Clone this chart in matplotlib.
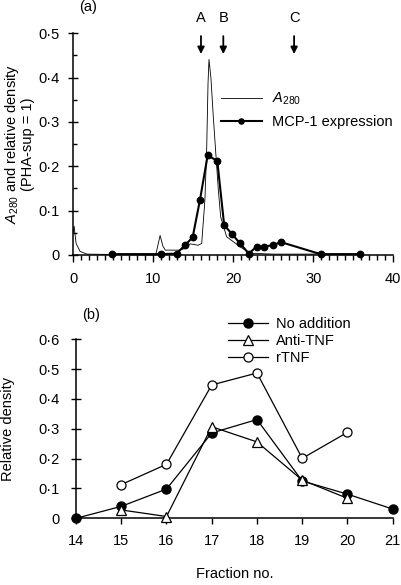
import matplotlib
matplotlib.use("Agg")
import matplotlib.pyplot as plt
from matplotlib.ticker import MultipleLocator, FuncFormatter

plt.rcParams['font.family'] = ['Liberation Sans', 'DejaVu Sans']
plt.rcParams['mathtext.fontset'] = 'custom'
plt.rcParams['mathtext.rm'] = 'Liberation Sans'
plt.rcParams['mathtext.it'] = 'Liberation Sans:italic'

# ---- Panel (a) data ----
a280_x = [0.0, 0.1, 0.35, 0.85, 1.7, 10.0, 10.3, 10.85, 11.2, 11.5, 13.3, 14.0, 14.6, 15.0, 15.6,
          16.05, 16.45, 16.67, 16.84, 16.96, 17.2, 17.5, 17.84, 18.13, 18.42, 19.17, 20.0, 20.8,
          22.1, 25.0, 30.0, 31.0, 32.0]
a280_y = [0.05, 0.065, 0.026, 0.008, 0.002, 0.0, 0.0, 0.044, 0.02, 0.011, 0.011, 0.015, 0.025, 0.024, 0.022,
          0.026, 0.124, 0.237, 0.387, 0.441, 0.40, 0.312, 0.222, 0.147, 0.086, 0.041, 0.03, 0.019,
          0.004, 0.002, 0.002, 0.004, 0.0]
mcp_x = [4.8, 10.95, 12.9, 13.96, 14.92, 15.84, 16.8, 18.0, 18.86, 19.86, 20.84, 21.95,
         22.9, 23.84, 24.9, 25.96, 30.9, 35.8]
mcp_y = [0.002, 0.002, 0.003, 0.022, 0.040, 0.125, 0.225, 0.212, 0.067, 0.047, 0.026, 0.003,
         0.019, 0.019, 0.022, 0.029, 0.002, 0.002]
arrow_labels = ['A', 'B', 'C']
arrow_x = [15.96, 18.75, 27.6]

# ---- Panel (b) data ----
fractions = [14, 15, 16, 17, 18, 19, 20, 21]
no_add = [0.0, 0.04, 0.098, 0.286, 0.331, 0.125, 0.081, 0.031]
anti_x = [15, 16, 17, 18, 19, 20]
anti_tnf = [0.028, 0.006, 0.307, 0.256, 0.128, 0.067]
rtnf_x = [15, 16, 17, 18, 19, 20]
rtnf = [0.113, 0.181, 0.447, 0.487, 0.201, 0.288]

dotfmt = FuncFormatter(lambda v, p: '0' if abs(v) < 1e-9 else ('%.1f' % v).replace('.', '\u00b7'))

W, H = 402, 585
fig = plt.figure(figsize=(W / 100, H / 100), dpi=100)

def box(l, r, top, bot):
    return [l / W, 1 - bot / H, (r - l) / W, (bot - top) / H]

fs = 10.5
# ---------- Panel (a) ----------
ax1 = fig.add_axes(box(73.3, 393.3, 33.3, 255))
ax1.plot(a280_x, a280_y, color='black', lw=0.6, label=r'$A_{280}$', clip_on=False)
ax1.plot(mcp_x, mcp_y, color='black', lw=1.5, marker='o', ms=4.6, label='MCP-1 expression', clip_on=False)
ax1.set_xlim(0, 40)
ax1.set_ylim(0, 0.5)
for s in ['top', 'right']:
    ax1.spines[s].set_visible(False)
for s in ['left', 'bottom']:
    ax1.spines[s].set_linewidth(1.1)
ax1.xaxis.set_major_locator(MultipleLocator(10))
ax1.xaxis.set_minor_locator(MultipleLocator(1))
ax1.yaxis.set_major_locator(MultipleLocator(0.1))
ax1.yaxis.set_minor_locator(MultipleLocator(0.05))
ax1.yaxis.set_major_formatter(dotfmt)
ax1.tick_params(axis='x', which='major', direction='out', length=5, width=1.0, labelsize=fs, pad=7.3)
ax1.tick_params(axis='x', which='minor', direction='out', length=3.6, width=1.0)
ax1.tick_params(axis='y', which='major', direction='inout', length=7, width=1.0, labelsize=fs, pad=6.5)
ax1.tick_params(axis='y', which='minor', direction='in', length=3, width=1.0)
ax1.set_ylabel(r'$A_{280}$ and relative density' + '\n(PHA-sup = 1)', fontsize=fs, linespacing=1.0)
ax1.yaxis.set_label_coords(-0.12, 0.5)
ax1.legend(loc='upper left', bbox_to_anchor=(0.443, 0.766), frameon=False, fontsize=fs,
           handlelength=2.8, handletextpad=0.69, labelspacing=0.55, borderaxespad=0, markerscale=0.8)
fig.text(79 / W, 1 - 7 / H, '(a)', fontsize=fs, ha='left', va='center')
for lab, xv in zip(arrow_labels, arrow_x):
    ax1.annotate('', xy=(xv, 0.447), xytext=(xv, 0.5), xycoords='data',
                 arrowprops=dict(arrowstyle='-|>', color='black', lw=1.3, mutation_scale=10),
                 annotation_clip=False)
    ax1.text(xv, 0.535, lab, ha='center', va='center', fontsize=fs)

# ---------- Panel (b) ----------
ax2 = fig.add_axes(box(76, 392.7, 339.3, 518.3))
ax2.plot(fractions, no_add, color='black', lw=0.9, marker='o', ms=6.5, mfc='black', mec='black',
         label='No addition', clip_on=False, zorder=3)
ax2.plot(anti_x, anti_tnf, color='black', lw=0.9, marker='^', ms=7, mfc='white', mec='black',
         mew=0.9, label='Anti-TNF', clip_on=False, zorder=3)
ax2.plot(rtnf_x, rtnf, color='black', lw=0.9, marker='o', ms=6.5, mfc='white', mec='black',
         mew=0.9, label='rTNF', clip_on=False, zorder=3)
ax2.set_xlim(14, 21)
ax2.set_ylim(0, 0.6)
for s in ['top', 'right']:
    ax2.spines[s].set_visible(False)
for s in ['left', 'bottom']:
    ax2.spines[s].set_linewidth(1.1)
ax2.xaxis.set_major_locator(MultipleLocator(1))
ax2.yaxis.set_major_locator(MultipleLocator(0.1))
ax2.yaxis.set_major_formatter(dotfmt)
ax2.tick_params(axis='x', which='major', direction='out', length=4, width=1.0, labelsize=fs, pad=7)
ax2.tick_params(axis='y', which='major', direction='inout', length=7, width=1.0, labelsize=fs, pad=8)
ax2.set_ylabel('Relative density', fontsize=fs)
ax2.yaxis.set_label_coords(-0.193, 0.5)
ax2.set_xlabel('Fraction no.', fontsize=fs)
ax2.xaxis.set_label_coords(0.5, -0.272)
ax2.legend(loc='upper left', bbox_to_anchor=(0.4617, 1.157), frameon=False, fontsize=fs,
           handlelength=2.75, handletextpad=0.55, labelspacing=0.2, borderaxespad=0)
fig.text(82 / W, 1 - 315 / H, '(b)', fontsize=fs, ha='left', va='center')

fig.savefig('out.png', dpi=100)
